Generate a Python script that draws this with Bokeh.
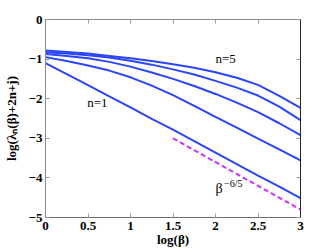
from bokeh.plotting import figure
from bokeh.models import Range1d, LinearAxis, FixedTicker, CustomJSTickFormatter, Label
from bokeh.embed import file_html
from bokeh.resources import INLINE

# ---- data ----
log_beta = [0.0, 0.25, 0.5, 0.75, 1.0, 1.25, 1.5, 1.75, 2.0, 2.25, 2.5, 2.75, 3.0]
n1 = [-1.10, -1.38, -1.66, -1.94, -2.22, -2.51, -2.78, -3.07, -3.36, -3.65, -3.94, -4.22, -4.51]
n2 = [-0.95, -1.05, -1.16, -1.29, -1.46, -1.67, -1.91, -2.18, -2.46, -2.73, -3.01, -3.28, -3.56]
n3 = [-0.87, -0.92, -0.98, -1.07, -1.19, -1.34, -1.50, -1.68, -1.88, -2.10, -2.34, -2.62, -2.92]
n4 = [-0.83, -0.86, -0.90, -0.96, -1.04, -1.14, -1.26, -1.39, -1.55, -1.72, -1.92, -2.20, -2.54]
n5 = [-0.78, -0.82, -0.86, -0.92, -0.98, -1.05, -1.13, -1.22, -1.33, -1.47, -1.65, -1.93, -2.23]
series = [n1, n2, n3, n4, n5]

ref_x = [1.5, 3.0]          # beta^(-6/5) reference line
ref_y = [-3.0, -4.8]

x_ticks = [0, 0.5, 1, 1.5, 2, 2.5, 3]
y_ticks = [0, -1, -2, -3, -4, -5]

x_title = "log(\u03b2)"
y_title = "log(\u03bb\u2099(\u03b2)+2n+j)"

BLUE = "#2a46f5"
MAGENTA = "#cc33ff"
FONT = "'Liberation Serif', 'Times New Roman', Times, serif"

p = figure(width=332, height=250, output_backend="svg", toolbar_location=None,
           x_range=Range1d(0, 3), y_range=Range1d(-5, 0),
           min_border_left=43, min_border_right=32, min_border_top=19, min_border_bottom=33)
p.background_fill_color = "white"
p.border_fill_color = "white"
p.outline_line_color = None
p.grid.visible = False

for s in series:
    p.line(log_beta, s, line_color=BLUE, line_width=2)
p.line(ref_x, ref_y, line_color=MAGENTA, line_width=2, line_dash="5 3")

xfmt = CustomJSTickFormatter(code="return tick.toString();")
yfmt = CustomJSTickFormatter(code="return tick < 0 ? '\\u2212' + (-tick).toString() : tick.toString();")
blank = CustomJSTickFormatter(code="return '';")

def style(ax, ticks, color, labels=True, fmt=None):
    ax.ticker = FixedTicker(ticks=ticks)
    ax.minor_tick_line_color = None
    ax.major_tick_in = 4
    ax.major_tick_out = 0
    ax.axis_line_color = color
    ax.major_tick_line_color = "#9a9a9a"
    if labels:
        ax.formatter = fmt
        ax.major_label_text_font = FONT
        ax.major_label_text_font_style = "bold"
        ax.major_label_text_font_size = "13px"
        ax.major_label_text_color = "black"
        ax.major_label_standoff = 3
        ax.axis_label_text_font = FONT
        ax.axis_label_text_font_style = "bold"
        ax.axis_label_text_color = "black"
    else:
        ax.formatter = blank
        ax.major_label_text_font_size = "1px"
        ax.major_label_standoff = 0

style(p.xaxis[0], x_ticks, "#6e6e6e", True, xfmt)
style(p.yaxis[0], y_ticks, "#8a8a8a", True, yfmt)
p.xaxis[0].axis_label = x_title
p.xaxis[0].axis_label_text_font_size = "13px"
p.xaxis[0].axis_label_standoff = -1
p.xaxis[0].major_label_standoff = 4
p.yaxis[0].axis_label = y_title
p.yaxis[0].axis_label_text_font_size = "13px"
p.yaxis[0].axis_label_standoff = 7

top = LinearAxis()
style(top, x_ticks, "#8a8a8a", False)
right = LinearAxis()
style(right, y_ticks, "#222222", False)
p.add_layout(top, "above")
p.add_layout(right, "right")

# annotations
p.add_layout(Label(x=0.61, y=-2.09, text="n=1", text_font=FONT, text_font_size="13px",
                   text_color="black", text_align="center", text_baseline="middle"))
p.add_layout(Label(x=2.12, y=-0.98, text="n=5", text_font=FONT, text_font_size="13px",
                   text_color="black", text_align="center", text_baseline="middle"))
p.add_layout(Label(x=2.0, y=-4.27, text="\u03b2", text_font=FONT, text_font_size="14px",
                   text_color="black", text_align="left", text_baseline="alphabetic"))
p.add_layout(Label(x=2.10, y=-4.15, text="\u22126/5", text_font=FONT, text_font_size="10px",
                   text_color="black", text_align="left", text_baseline="alphabetic"))

open("out.html", "w").write(file_html(p, INLINE))
